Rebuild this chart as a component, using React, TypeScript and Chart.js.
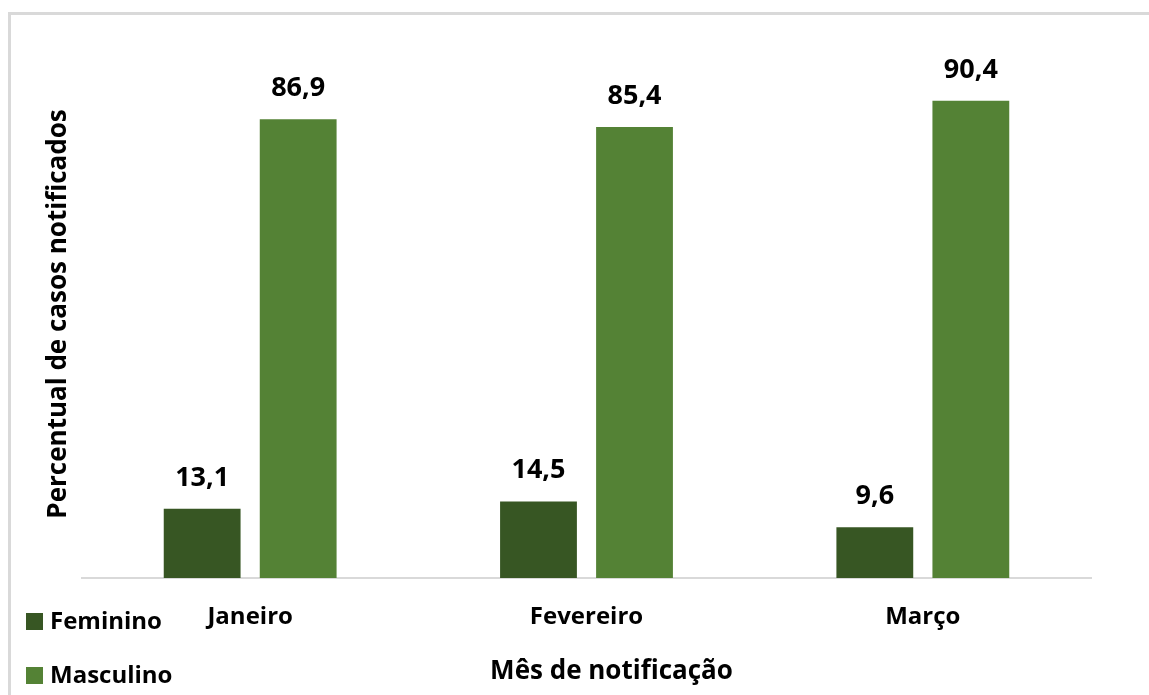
import React, { useEffect, useRef } from 'react';
import { Chart, registerables } from 'chart.js';

Chart.register(...registerables);

const categories = ['Janeiro', 'Fevereiro', 'Março'];
const seriesLabels = ['Feminino', 'Masculino'];
const feminino = [13.1, 14.5, 9.6];
const masculino = [86.9, 85.4, 90.4];
const seriesColors = ['#375623', '#548235'];
const yAxisTitle = 'Percentual de casos notificados';
const xAxisTitle = 'Mês de notificação';

const FONT = '"Open Sans", "DejaVu Sans", sans-serif';
const TEXT = '#000000';

const fmt = (v: number) => v.toFixed(1).replace('.', ',');

const framePlugin = {
  id: 'frame',
  beforeDraw(chart: any) {
    const ctx = chart.ctx;
    ctx.save();
    ctx.fillStyle = '#ffffff';
    ctx.fillRect(0, 0, chart.width, chart.height);
    ctx.fillStyle = '#d9d9d9';
    ctx.fillRect(8, 12, 3, chart.height - 12);
    ctx.fillRect(8, 12, chart.width - 8, 3);
    ctx.restore();
  },
};

const valueLabelPlugin = {
  id: 'valueLabels',
  afterDatasetsDraw(chart: any) {
    const ctx = chart.ctx;
    ctx.save();
    ctx.font = `bold 27px ${FONT}`;
    ctx.fillStyle = TEXT;
    ctx.textAlign = 'center';
    ctx.textBaseline = 'alphabetic';
    chart.data.datasets.forEach((ds: any, i: number) => {
      const meta = chart.getDatasetMeta(i);
      meta.data.forEach((el: any, j: number) => {
        ctx.fillText(fmt(ds.data[j]), el.x, el.y - 23);
      });
    });
    ctx.restore();
  },
};

const xTitlePlugin = {
  id: 'xTitle',
  afterDraw(chart: any) {
    const ctx = chart.ctx;
    ctx.save();
    ctx.font = `bold 26px ${FONT}`;
    ctx.fillStyle = TEXT;
    ctx.textAlign = 'center';
    ctx.textBaseline = 'middle';
    const area = chart.chartArea;
    const cx = (area.left + area.right) / 2 + 25;
    ctx.fillText(xAxisTitle, cx, 672);
    ctx.restore();
  },
};

const sideLegendPlugin = {
  id: 'sideLegend',
  afterDraw(chart: any) {
    const ctx = chart.ctx;
    const rows = [621, 675];
    ctx.save();
    ctx.font = `bold 24px ${FONT}`;
    ctx.textAlign = 'left';
    ctx.textBaseline = 'middle';
    chart.data.datasets.forEach((ds: any, i: number) => {
      const cy = rows[i];
      ctx.fillStyle = ds.backgroundColor;
      ctx.fillRect(26, cy - 8, 17, 17);
      ctx.fillStyle = TEXT;
      ctx.fillText(ds.label, 50, cy + 1);
    });
    ctx.restore();
  },
};

export default function App() {
  const ref = useRef<HTMLCanvasElement | null>(null);

  useEffect(() => {
    document.body.style.margin = '0';
    if (!ref.current) return;
    const chart = new Chart(ref.current, {
      type: 'bar',
      data: {
        labels: categories,
        datasets: [
          {
            label: seriesLabels[0],
            data: feminino,
            backgroundColor: seriesColors[0],
            categoryPercentage: 0.571,
            barPercentage: 0.8,
          },
          {
            label: seriesLabels[1],
            data: masculino,
            backgroundColor: seriesColors[1],
            categoryPercentage: 0.571,
            barPercentage: 0.8,
          },
        ],
      },
      options: {
        responsive: false,
        animation: false,
        layout: { padding: { left: 43, right: 58, top: 50, bottom: 0 } },
        plugins: {
          legend: { display: false },
          tooltip: { enabled: false },
        },
        scales: {
          x: {
            grid: { display: false, drawTicks: false },
            border: { display: true, color: '#d9d9d9', width: 2 },
            ticks: {
              color: TEXT,
              font: { family: FONT, size: 24, weight: 'bold' },
              padding: 25,
            },
            title: { display: false },
            afterFit: (s: any) => {
              s.height = 117;
            },
          },
          y: {
            min: 0,
            max: 100,
            grid: { display: false, drawTicks: false },
            border: { display: false },
            ticks: { display: false },
            title: {
              display: true,
              text: yAxisTitle,
              color: TEXT,
              font: { family: FONT, size: 26, weight: 'bold' },
              padding: { top: 0, bottom: 0 },
            },
            afterFit: (s: any) => {
              s.width = 39;
            },
          },
        },
      },
      plugins: [framePlugin, valueLabelPlugin, xTitlePlugin, sideLegendPlugin],
    });
    return () => chart.destroy();
  }, []);

  return (
    <div style={{ width: 1149, height: 695 }}>
      <canvas ref={ref} width={1149} height={695} style={{ display: 'block' }} />
    </div>
  );
}
